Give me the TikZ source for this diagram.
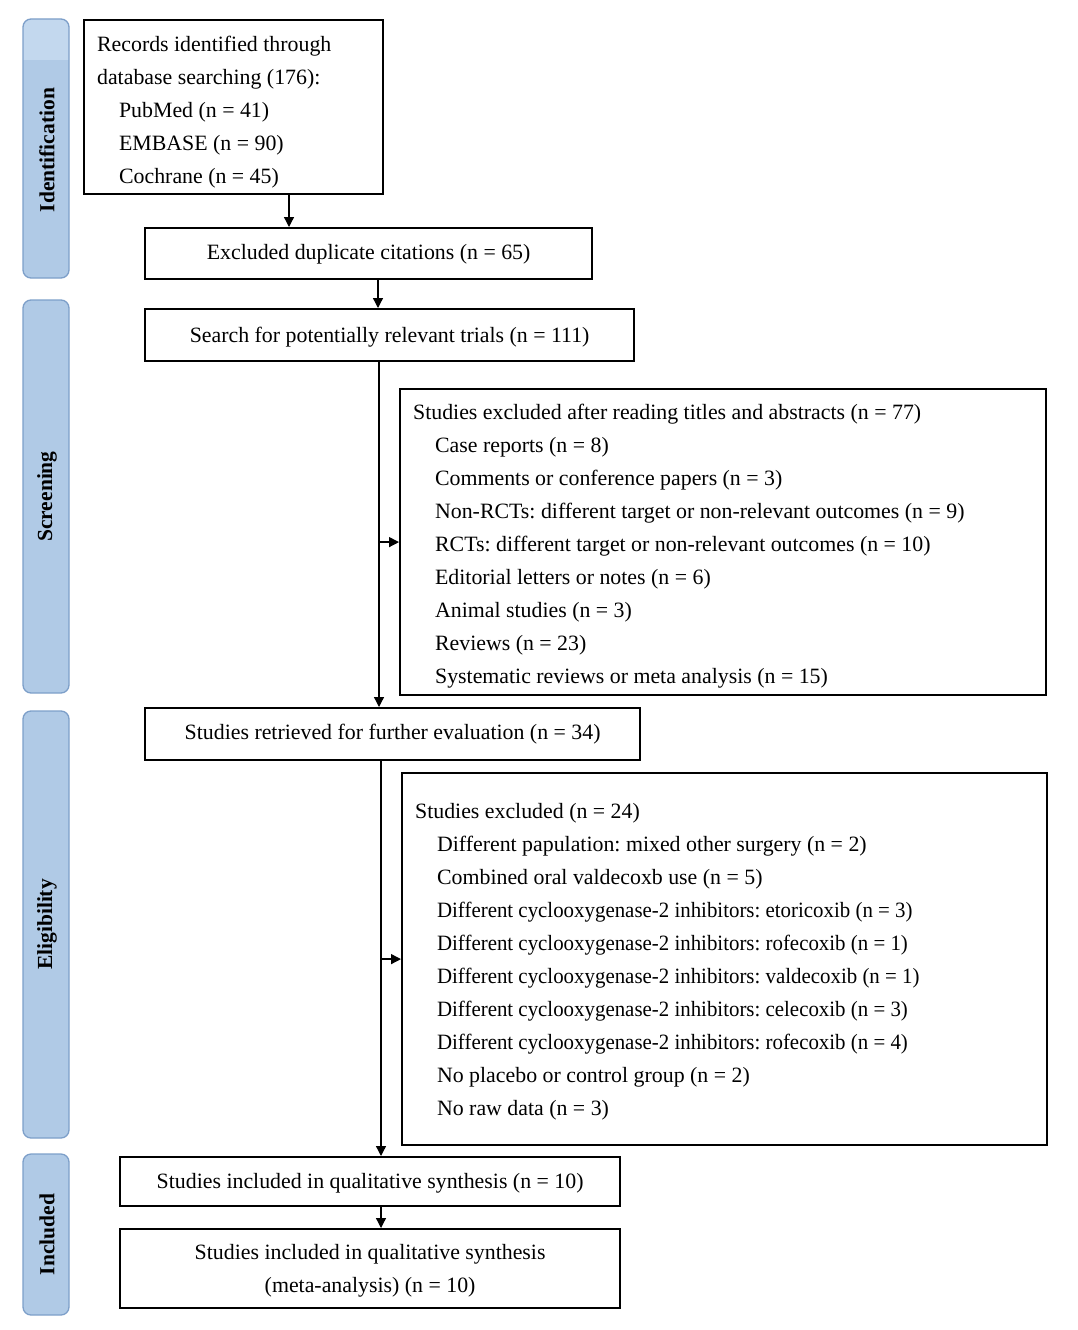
\documentclass[tikz,border=0pt]{standalone}
\usepackage{fontspec}
\usepackage{graphicx}
\setmainfont{Liberation Serif}
\usetikzlibrary{arrows.meta}
\definecolor{sidefill}{HTML}{B0CAE6}
\definecolor{sidetop}{HTML}{C3D8EE}
\definecolor{sideline}{HTML}{7D9FC9}
\newcommand\mainfs{\fontsize{21.85}{33}\selectfont\frenchspacing}
\newcommand\ind{\hspace*{22pt}}
\newcommand\narrowline[1]{\scalebox{0.956}[1]{#1}}
\begin{document}
\begin{tikzpicture}[x=1pt,y=-1pt,
  box/.style={draw, line width=2.2pt, inner ysep=0pt, inner xsep=0pt, font=\mainfs, anchor=north west},
  lbox/.style={box, align=flush left, inner xsep=13pt},
  cbox/.style={box, align=center},
  sidebox/.style={draw=sideline, line width=1.3pt, rounded corners=8pt},
  sidelabel/.style={rotate=90, font=\fontsize{21.5}{24}\selectfont\bfseries},
  arr/.style={line width=1.3pt, -{Triangle[length=10pt,width=10pt]}}]
\useasboundingbox (0,0) rectangle (1078,1330);
% side bars
\fill[sidefill, rounded corners=8pt] (23,19) rectangle (69,278);
\begin{scope}
  \clip[rounded corners=8pt] (23,19) rectangle (69,278);
  \fill[sidetop] (23,19) rectangle (69,60);
\end{scope}
\draw[sidebox] (23,19) rectangle (69,278);
\draw[sidebox, fill=sidefill] (23,300) rectangle (69,693);
\draw[sidebox, fill=sidefill] (23,711) rectangle (69,1138);
\draw[sidebox, fill=sidefill] (23,1154) rectangle (69,1315);
\node[sidelabel] (sid) at (47,150) {Identification};
\node[sidelabel] (sscr) at (47,496.5) {Screening};
\node[sidelabel] (selig) at (47,924.5) {Eligibility};
\node[sidelabel] (sinc) at (47,1234.5) {Included};
% boxes
\node[lbox, minimum width=299pt, minimum height=174pt, text width=273pt] (rec) at (83,19)
  {\rule{0pt}{25pt}Records identified through\\database searching (176):\\\ind PubMed (n = 41)\\\ind EMBASE (n = 90)\\\ind Cochrane (n = 45)};
\node[cbox, minimum width=447pt, minimum height=51pt] (dup) at (144,227) {\rule{0pt}{17pt}Excluded duplicate citations (n = 65)};
\node[cbox, minimum width=489pt, minimum height=52pt] (srch) at (144,308) {\rule{0pt}{19pt}Search for potentially relevant trials (n = 111)};
\node[lbox, minimum width=646pt, minimum height=306pt, text width=620pt] (exa) at (399,388)
  {\rule{0pt}{23pt}Studies excluded after reading titles and abstracts (n = 77)\\
   \ind Case reports (n = 8)\\
   \ind Comments or conference papers (n = 3)\\
   \ind Non-RCTs: different target or non-relevant outcomes (n = 9)\\
   \ind RCTs: different target or non-relevant outcomes (n = 10)\\
   \ind Editorial letters or notes (n = 6)\\
   \ind Animal studies (n = 3)\\
   \ind Reviews (n = 23)\\
   \ind Systematic reviews or meta analysis (n = 15)};
\node[cbox, minimum width=495pt, minimum height=52pt] (retr) at (144,707) {Studies retrieved for further evaluation (n = 34)};
\node[lbox, minimum width=645pt, minimum height=372pt, text width=619pt] (exb) at (401,772)
  {\rule{0pt}{21pt}Studies excluded (n = 24)\\
   \ind Different papulation: mixed other surgery (n = 2)\\
   \ind Combined oral valdecoxb use (n = 5)\\
   \ind \narrowline{Different cyclooxygenase-2 inhibitors: etoricoxib (n = 3)}\\
   \ind \narrowline{Different cyclooxygenase-2 inhibitors: rofecoxib (n = 1)}\\
   \ind \narrowline{Different cyclooxygenase-2 inhibitors: valdecoxib (n = 1)}\\
   \ind \narrowline{Different cyclooxygenase-2 inhibitors: celecoxib (n = 3)}\\
   \ind \narrowline{Different cyclooxygenase-2 inhibitors: rofecoxib (n = 4)}\\
   \ind No placebo or control group (n = 2)\\
   \ind No raw data (n = 3)};
\node[cbox, minimum width=500pt, minimum height=49pt] (inca) at (119,1156) {\rule{0pt}{19pt}Studies included in qualitative synthesis (n = 10)};
\node[cbox, minimum width=500pt, minimum height=79pt] (incb) at (119,1228) {\rule{0pt}{19pt}Studies included in qualitative synthesis\\(meta-analysis) (n = 10)};
% connector x positions
\coordinate (xa) at (289,0);
\coordinate (xb) at (378,0);
\coordinate (xc) at (379,0);
\coordinate (xd) at (381,0);
\draw[arr] (xa |- rec.south) -- (xa |- dup.north);
\draw[arr] (xb |- dup.south) -- (xb |- srch.north);
\draw[arr] (xc |- srch.south) -- (xc |- retr.north);
\draw[arr] (xc |- exa.west) -- (exa.west);
\draw[arr] (xd |- retr.south) -- (xd |- inca.north);
\draw[arr] (xd |- exb.west) -- (exb.west);
\draw[arr] (xd |- inca.south) -- (xd |- incb.north);
\end{tikzpicture}
\end{document}
